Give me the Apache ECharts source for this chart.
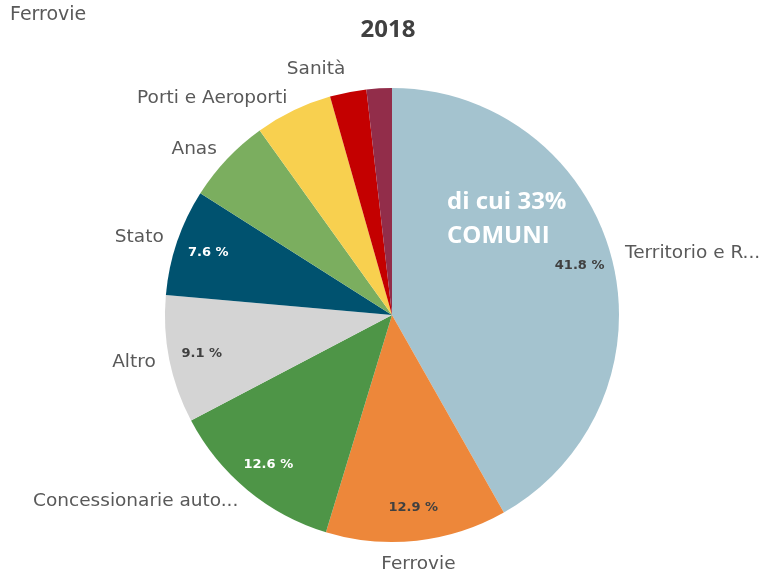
<!DOCTYPE html>
<html><head><meta charset="utf-8">
<script src="https://cdn.jsdelivr.net/npm/echarts@6/dist/echarts.min.js"></script>
<style>html,body{margin:0;padding:0;background:#fff}#c{width:763px;height:579px}</style>
</head><body><div id="c"></div>
<script>
const categories = ["Territorio e R...", "Ferrovie", "Concessionarie auto...", "Altro", "Stato", "Anas", "Porti e Aeroporti", "Sanità", "Altri enti"];
const values = [41.8, 12.9, 12.6, 9.1, 7.6, 6.1, 5.5, 2.6, 1.8];
const colors = ["#a4c3cf", "#ed873a", "#4e9547", "#d4d4d4", "#00526f", "#7bae5f", "#f8d04f", "#c40000", "#922d4a"];
const showName = [true, true, true, true, true, true, true, true, false];
const showPct = [true, true, true, true, true, false, false, false, false];
const pctColor = ["#404040", "#404040", "#ffffff", "#404040", "#ffffff", "#fff", "#fff", "#fff", "#fff"];

const CX = 392, CY = 315, R = 227, GAP = 14;
const LABEL_FONT = 'DejaVu Sans';
const total = values.reduce((a, b) => a + b, 0);
const midAngles = [];
let acc = 0;
values.forEach(v => { midAngles.push((acc + v / 2) / total * 2 * Math.PI); acc += v; });

const chart = echarts.init(document.getElementById('c'));
chart.setOption({
  animation: false,
  title: { text: '2018', left: 383, top: 13, textAlign: 'center',
    textStyle: { fontFamily: 'Open Sans', fontWeight: 'bold', fontSize: 24, color: '#404040' } },
  graphic: [
    { type: 'text', x: 10, y: 6, z: 100, style: { text: 'Ferrovie', font: '19px "DejaVu Sans"', fill: '#595959' } },
    { type: 'text', x: 447, y: 185, z: 100, style: { text: 'di cui 33%\nCOMUNI', font: 'bold 24px "Open Sans"', lineHeight: 34, fill: '#ffffff', align: 'left', verticalAlign: 'top' } }
  ],
  series: [
    {
      type: 'pie', center: [CX, CY], radius: [0, R], startAngle: 90, clockwise: true,
      silent: true, labelLine: { show: false },
      data: categories.map((c, i) => ({ name: c, value: values[i], itemStyle: { color: colors[i] },
        label: { show: showName[i] } })),
      label: { position: 'outside', fontFamily: LABEL_FONT, fontSize: 18.5, color: '#595959', formatter: '{b}', overflow: 'none', width: 300 },
      labelLayout: function (p) {
        const a = midAngles[p.dataIndex];
        const ux = Math.sin(a), uy = -Math.cos(a);
        const x = CX + ux * (R + GAP), y = CY + uy * (R + GAP);
        const align = Math.abs(ux) < 0.15 ? 'center' : (ux > 0 ? 'left' : 'right');
        const va = uy > 0.95 ? 'top' : (uy < -0.95 ? 'bottom' : 'middle');
        return { x: x, y: y, align: align, verticalAlign: va };
      }
    },
    {
      type: 'pie', center: [CX, CY], radius: [155, R], startAngle: 90, clockwise: true,
      silent: true, labelLine: { show: false },
      data: categories.map((c, i) => ({ name: c, value: values[i], itemStyle: { color: 'rgba(0,0,0,0)' },
        label: { show: showPct[i], color: pctColor[i] } })),
      label: { position: 'inside', fontFamily: LABEL_FONT, fontSize: 13, fontWeight: 'bold',
        formatter: p => p.value.toFixed(1) + ' %' }
    }
  ]
});
</script></body></html>
